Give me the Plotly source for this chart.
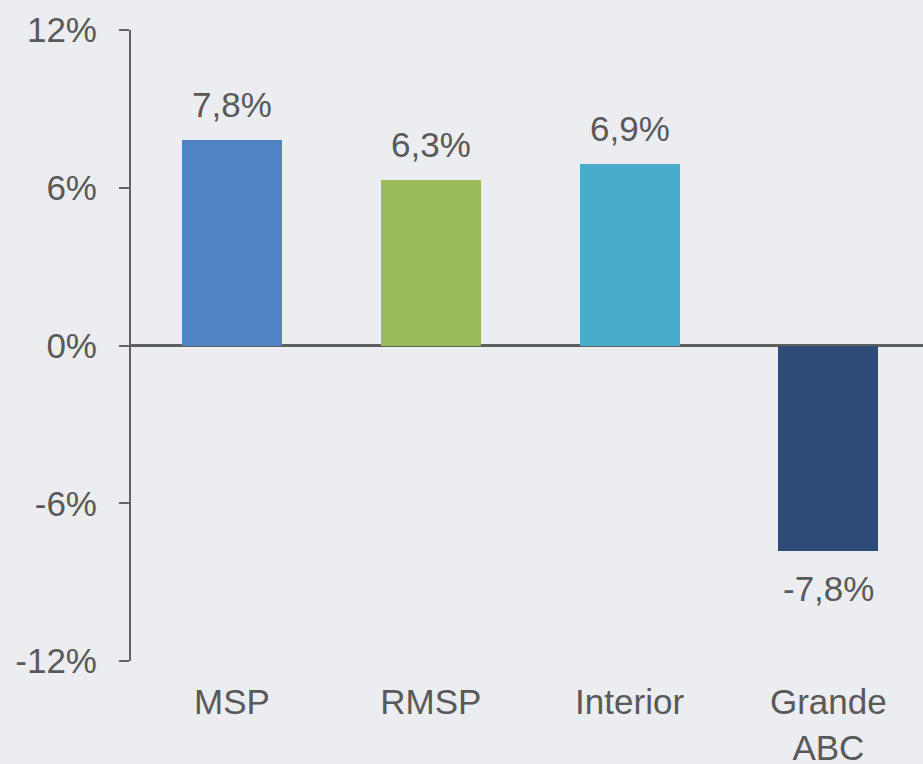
import plotly.graph_objects as go

categories = ["MSP", "RMSP", "Interior", "Grande<br>ABC"]
values = [7.8, 6.3, 6.9, -7.8]
value_labels = ["7,8%", "6,3%", "6,9%", "-7,8%"]
bar_colors = ["#5083c2", "#9bbb5a", "#4aaccb", "#2e4b77"]
y_tickvals = [12, 6, 0, -6, -12]
y_ticktext = ["12%", "6%", "0%", "-6%", "-12%"]

TEXT = "#595959"
FONT = "Liberation Sans, Arial, sans-serif"

fig = go.Figure()
fig.add_trace(go.Bar(
    x=list(range(len(categories))), y=values,
    marker=dict(color=bar_colors, line=dict(width=0)),
    width=0.503, hoverinfo="skip",
))

for i, (v, t) in enumerate(zip(values, value_labels)):
    fig.add_annotation(
        x=i, y=v, text=t, showarrow=False,
        yanchor="bottom" if v >= 0 else "top",
        yshift=14 if v >= 0 else -16,
        font=dict(size=35, color=TEXT, family=FONT),
    )

fig.update_layout(
    width=923, height=764,
    margin=dict(l=131, r=0, t=30, b=103, autoexpand=False),
    paper_bgcolor="#ebedf0", plot_bgcolor="rgba(0,0,0,0)",
    showlegend=False,
    font=dict(family=FONT, size=35, color=TEXT),
    bargap=0,
)
fig.update_xaxes(
    range=[-0.508, 3.476], automargin=False,
    tickvals=list(range(len(categories))), ticktext=categories,
    showline=False, showgrid=False, zeroline=False,
    ticks="outside", ticklen=10, tickcolor="rgba(0,0,0,0)",
    tickfont=dict(size=35, color=TEXT, family=FONT),
)
fig.update_yaxes(
    range=[-12, 12], automargin=False,
    tickvals=y_tickvals, ticktext=y_ticktext,
    showline=True, linecolor="#636363", linewidth=2,
    ticks="outside", ticklen=10, tickwidth=2, tickcolor="#636363",
    showgrid=False, zeroline=True, zerolinecolor="#5f5f5f", zerolinewidth=3,
    tickfont=dict(size=35, color=TEXT, family=FONT),
    ticklabelstandoff=15,
)

fig.write_html(
    "out.html",
    config={"displayModeBar": False},
    post_script="document.body.style.margin='0';document.body.style.overflow='hidden';",
)
